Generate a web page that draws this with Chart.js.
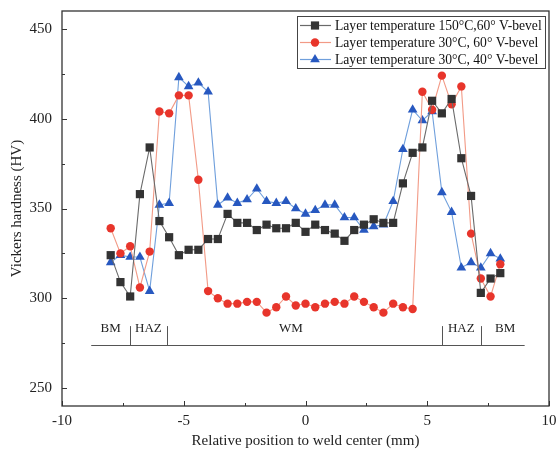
<!DOCTYPE html>
<html>
<head>
<meta charset="utf-8">
<title>Vickers hardness profile</title>
<script src="https://cdn.jsdelivr.net/npm/chart.js@4.4.0/dist/chart.umd.min.js"></script>
<style>
    html, body { margin: 0; padding: 0; background: #fff; }
</style>
</head>
<body>
<canvas id="hardnessChart" width="557" height="457"></canvas>
<script>
// positions across the weld (mm)
const positions = [-8.0, -7.6, -7.2, -6.8, -6.4, -6.0, -5.6, -5.2, -4.8, -4.4, -4.0,
    -3.6, -3.2, -2.8, -2.4, -2.0, -1.6, -1.2, -0.8, -0.4, 0.0,
    0.4, 0.8, 1.2, 1.6, 2.0, 2.4, 2.8, 3.2, 3.6, 4.0,
    4.4, 4.8, 5.2, 5.6, 6.0, 6.4, 6.8, 7.2, 7.6, 8.0];

// Layer temperature 150°C, 60° V-bevel
const hv150_60 = [324, 309, 301, 358, 384, 343, 334, 324, 327, 327, 333,
    333, 347, 342, 342, 338, 341, 339, 339, 342, 337,
    341, 338, 336, 332, 338, 341, 344, 342, 342, 364,
    381, 384, 410, 403, 411, 378, 357, 303, 311, 314];

// Layer temperature 30°C, 60° V-bevel
const hv30_60 = [339, 325, 329, 306, 326, 404, 403, 413, 413, 366, 304,
    300, 297, 297, 298, 298, 292, 295, 301, 296, 297,
    295, 297, 298, 297, 301, 298, 295, 292, 297, 295,
    294, 415, 405, 424, 408, 418, 336, 311, 301, 319];

// Layer temperature 30°C, 40° V-bevel
const hv30_40 = [320, 324, 323, 323, 304, 352, 353, 423, 418, 420, 415,
    352, 356, 353, 355, 361, 354, 353, 354, 350, 347,
    349, 352, 352, 345, 345, 338, 340, 341, 354, 383,
    405, 399, 404, 359, 348, 317, 320, 317, 325, 322];

const seriesNames = [
    "Layer temperature 150\u00b0C,60\u00b0 V-bevel",
    "Layer temperature 30\u00b0C, 60\u00b0 V-bevel",
    "Layer temperature 30\u00b0C, 40\u00b0 V-bevel"
];

// weld zones along the bottom
const zoneBounds = [-8.8, -7.2, -5.7, 5.6, 7.2, 9.0];
const zoneLabels = ["BM", "HAZ", "WM", "HAZ", "BM"];
const zoneLabelX = [-8.0, -6.45, -0.6, 6.4, 8.2];
const zoneLineY = 274;
const zoneTickTop = 284.5;
const zoneLabelY = 283;

const xTicks = [-10, -5, 0, 5, 10];
const yTicks = [250, 300, 350, 400, 450];

const serif = "'Liberation Serif', 'DejaVu Serif', serif";

function toPoints(values) {
    return positions.map((x, i) => ({ x: x, y: values[i] }));
}

const styles = [
    { line: "#6a6a6a", point: "#333333", pointStyle: "rect", radius: 5.8 },
    { line: "#f29a86", point: "#e8352b", pointStyle: "circle", radius: 4.2 },
    { line: "#6f9fdc", point: "#2758c0", pointStyle: "triangle", radius: 5.6 }
];

const allValues = [hv150_60, hv30_60, hv30_40];

// frame, inward ticks, zone marks and the legend box
const decorPlugin = {
    id: "decor",
    afterDraw(chart) {
        const ctx = chart.ctx;
        const area = chart.chartArea;
        const xs = chart.scales.x;
        const ys = chart.scales.y;

        ctx.save();
        ctx.strokeStyle = "#333";
        ctx.lineWidth = 1.3;
        ctx.strokeRect(area.left, area.top, area.right - area.left, area.bottom - area.top);

        // ticks
        ctx.lineWidth = 1;
        ctx.beginPath();
        for (let v = -10; v <= 10; v += 2.5) {
            const px = Math.round(xs.getPixelForValue(v)) + 0.5;
            const len = (v % 5 === 0) ? 5 : 3;
            ctx.moveTo(px, area.bottom);
            ctx.lineTo(px, area.bottom - len);
        }
        for (let v = 250; v <= 450; v += 25) {
            const py = Math.round(ys.getPixelForValue(v)) + 0.5;
            const len = (v % 50 === 0) ? 5 : 3;
            ctx.moveTo(area.left, py);
            ctx.lineTo(area.left + len, py);
        }
        ctx.stroke();

        // zones
        ctx.strokeStyle = "#555";
        ctx.lineWidth = 1;
        const ly = Math.round(ys.getPixelForValue(zoneLineY)) + 0.5;
        const ty = ys.getPixelForValue(zoneTickTop);
        ctx.beginPath();
        ctx.moveTo(xs.getPixelForValue(zoneBounds[0]), ly);
        ctx.lineTo(xs.getPixelForValue(zoneBounds[zoneBounds.length - 1]), ly);
        for (let i = 1; i < zoneBounds.length - 1; i++) {
            const px = Math.round(xs.getPixelForValue(zoneBounds[i])) + 0.5;
            ctx.moveTo(px, ly);
            ctx.lineTo(px, ty);
        }
        ctx.stroke();
        ctx.fillStyle = "#222";
        ctx.font = "13px " + serif;
        ctx.textAlign = "center";
        ctx.textBaseline = "middle";
        zoneLabels.forEach((label, i) => {
            ctx.fillText(label, xs.getPixelForValue(zoneLabelX[i]), ys.getPixelForValue(zoneLabelY));
        });

        // legend
        const boxLeft = 297, boxTop = 16, boxW = 248, boxH = 52;
        ctx.fillStyle = "#fff";
        ctx.fillRect(boxLeft, boxTop, boxW, boxH);
        ctx.strokeStyle = "#444";
        ctx.strokeRect(boxLeft + 0.5, boxTop + 0.5, boxW, boxH);
        ctx.font = "13.6px " + serif;
        ctx.textAlign = "left";
        seriesNames.forEach((name, i) => {
            const y = boxTop + 9.5 + i * 17;
            const st = styles[i];
            ctx.strokeStyle = st.line;
            ctx.lineWidth = 1.2;
            ctx.beginPath();
            ctx.moveTo(boxLeft + 3, y);
            ctx.lineTo(boxLeft + 34, y);
            ctx.stroke();
            ctx.fillStyle = st.point;
            ctx.strokeStyle = st.point;
            Chart.helpers.drawPoint(ctx, {
                pointStyle: st.pointStyle,
                radius: st.radius,
                rotation: 0,
                borderWidth: 0
            }, boxLeft + 18, y);
            ctx.fillStyle = "#111";
            ctx.fillText(name, boxLeft + 38, y + 1);
        });
        ctx.restore();
    }
};

const ctx = document.getElementById("hardnessChart").getContext("2d");

new Chart(ctx, {
    type: "line",
    data: {
        datasets: allValues.map((vals, i) => ({
            label: seriesNames[i],
            data: toPoints(vals),
            borderColor: styles[i].line,
            borderWidth: 1.1,
            pointStyle: styles[i].pointStyle,
            pointRadius: styles[i].radius,
            pointBackgroundColor: styles[i].point,
            pointBorderColor: styles[i].point,
            pointBorderWidth: 0,
            tension: 0,
            fill: false
        }))
    },
    options: {
        responsive: false,
        animation: false,
        layout: { padding: { top: 11, right: 8, left: 0, bottom: 0 } },
        plugins: {
            legend: { display: false },
            tooltip: { enabled: false }
        },
        scales: {
            x: {
                type: "linear",
                min: -10,
                max: 10,
                afterFit(scale) {
                    scale.height = 51;
                    scale.paddingLeft = 0;
                    scale.paddingRight = 0;
                },
                afterBuildTicks(scale) { scale.ticks = xTicks.map(v => ({ value: v })); },
                grid: { display: false, drawTicks: false },
                border: { display: false },
                ticks: {
                    color: "#222",
                    padding: 6,
                    font: { family: serif, size: 15 }
                },
                title: {
                    display: true,
                    text: "Relative position to weld center (mm)",
                    color: "#222",
                    font: { family: serif, size: 15 },
                    padding: { top: 0, bottom: 7 }
                }
            },
            y: {
                min: 240,
                max: 460,
                afterFit(scale) {
                    scale.width = 62;
                    scale.paddingTop = 0;
                    scale.paddingBottom = 0;
                },
                afterBuildTicks(scale) { scale.ticks = yTicks.map(v => ({ value: v })); },
                grid: { display: false, drawTicks: false },
                border: { display: false },
                ticks: {
                    color: "#222",
                    padding: 10,
                    font: { family: serif, size: 15 }
                },
                title: {
                    display: true,
                    text: "Vickers hardness (HV)",
                    color: "#222",
                    font: { family: serif, size: 15 },
                    padding: { top: 8, bottom: 0 }
                }
            }
        }
    },
    plugins: [decorPlugin]
});
</script>
</body>
</html>
